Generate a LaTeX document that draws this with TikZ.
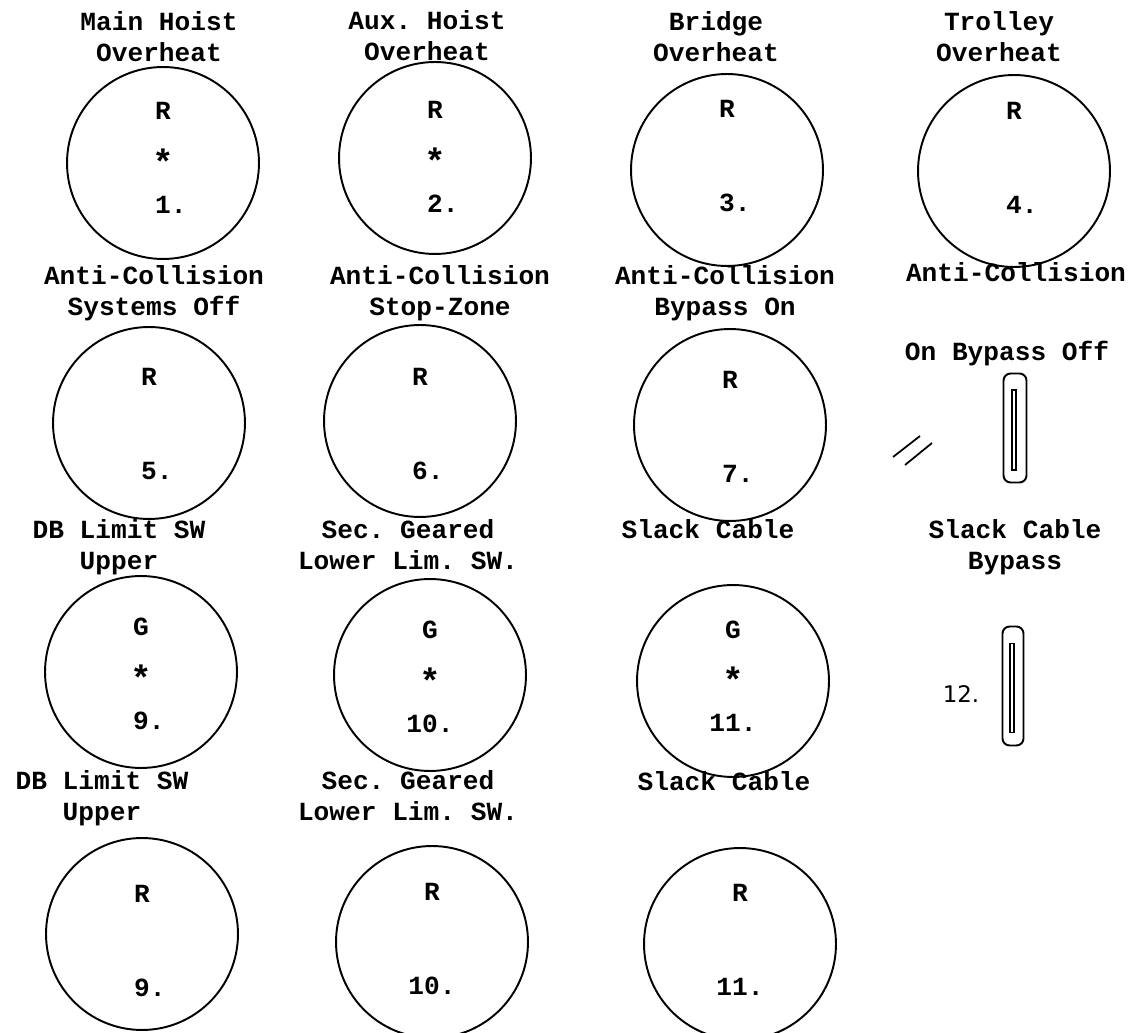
\documentclass[tikz,border=0pt]{standalone}
\usepackage{fontspec}
\setmonofont{Liberation Mono}
\newfontfamily\handfont{DejaVu Sans}
\usepackage{tikz}
\usetikzlibrary{positioning,calc}
\newcommand{\lampstar}{\raisebox{-.3em}{\scalebox{1.35}{*}}}
\newcommand{\panelfont}{\ttfamily\bfseries\fontsize{14.9}{17.6}\selectfont}
\newcommand{\facefont}{\ttfamily\bfseries\fontsize{14.9}{26.6}\selectfont}

\begin{document}
\begin{tikzpicture}[x=0.02cm,y=-0.02cm,
   lamp/.style={draw,circle,line width=1.1pt,minimum size=3.84cm,inner sep=0pt,outer sep=0pt},
   face/.style={align=center,font=\facefont,inner sep=0pt},
   caption/.style={align=center,font=\panelfont,inner sep=0pt},
   toggle/.style={draw,rounded corners=4pt,line width=1.1pt,minimum width=0.46cm,inner sep=0pt,outer sep=0pt},
   slot/.style={draw,line width=0.8pt,minimum width=0.08cm,inner sep=0pt}]
  \useasboundingbox (0,0) rectangle (1133,1033);

  % row 1: overheat lamps
  \node[lamp] (l1) at (163,163) {};
  \node[lamp] (l2) at (435,158) {};
  \node[lamp] (l3) at (727,170) {};
  \node[lamp] (l4) at (1014,171) {};
  \node[face] (f1) at ($(l1)+(0,-5)$) {R\\\lampstar\\\phantom{.}1.};
  \node[face] (f2) at ($(l2)+(0,-1)$) {R\\\lampstar\\\phantom{.}2.};
  \node[face] (f3) at ($(l3)+(0,-14)$) {R\\\strut\\\phantom{.}3.};
  \node[face] (f4) at ($(l4)+(0,-13)$) {R\\\strut\\\phantom{.}4.};
  \node[caption,above=0.1cm of l1,xshift=-0.08cm] (c1) {Main Hoist\\Overheat};
  \node[caption,above=0.02cm of l2,xshift=-0.16cm] (c2) {Aux. Hoist\\Overheat};
  \node[caption,above=0.24cm of l3,xshift=-0.22cm] (c3) {Bridge\\Overheat};
  \node[caption,above=0.26cm of l4,xshift=-0.3cm] (c4) {Trolley\\Overheat};

  % row 2: anti-collision
  \node[lamp] (l5) at (149,423) {};
  \node[lamp] (l6) at (420,421) {};
  \node[lamp] (l7) at (730,425) {};
  \node[face] (f5) at ($(l5)+(0,1)$) {R\\\strut\\\phantom{.}5.};
  \node[face] (f6) at ($(l6)+(0,3)$) {R\\\strut\\\phantom{.}6.};
  \node[face] (f7) at ($(l7)+(0,2)$) {R\\\strut\\\phantom{.}7.};
  \node[caption,above=0.12cm of l5,xshift=0.1cm] (c5) {Anti-Collision\\Systems Off};
  \node[caption,above=0.08cm of l6,xshift=0.4cm] (c6) {Anti-Collision\\Stop-Zone};
  \node[caption,above=0.16cm of l7,xshift=-0.1cm] (c7) {Anti-Collision\\Bypass On};
  \node[toggle,minimum height=2.18cm] (s8) at (1015,428) {};
  \node[slot,minimum height=1.6cm] (k8) at (1014,430) {};
  \node[caption,above=0.14cm of s8,xshift=-0.16cm] (c8b) {On Bypass Off};
  \node[caption,above=1.18cm of c8b,xshift=0.18cm] (c8a) {Anti-Collision};
  \draw[line width=1pt] (893,457) -- (920,436);
  \draw[line width=1pt] (905,465) -- (932,443);

  % row 3: limit switches, green
  \node[lamp] (l9g) at (141,672) {};
  \node[lamp] (l10g) at (430,675) {};
  \node[lamp] (l11g) at (733,681) {};
  \node[face] (f9g) at ($(l9g)+(0,2)$) {G\\\lampstar\\\phantom{.}9.};
  \node[face] (f10g) at ($(l10g)+(0,2)$) {G\\\lampstar\\10.};
  \node[face] (f11g) at ($(l11g)+(0,-5)$) {G\\\lampstar\\11.};
  \node[caption,above=0.02cm of l9g,xshift=-0.44cm] (c9g) {DB Limit SW\\Upper};
  \node[caption,above=0.18cm of l10g,xshift=-0.44cm] (c10g) {Sec. Geared\\Lower Lim. SW.};
  \node[caption,above=0.92cm of l11g,xshift=-0.5cm] (c11g) {Slack Cable};
  \node[toggle,minimum width=0.42cm,minimum height=2.38cm] (s12) at (1013,686) {};
  \node[slot,minimum height=1.78cm] (k12) at (1012,688) {};
  \node[caption,above=1.02cm of s12,xshift=0.04cm] (c12) {Slack Cable\\Bypass};
  \node[font=\handfont\fontsize{13}{13}\selectfont,inner sep=0pt] (n12) at (961,694) {12.};

  % row 4: limit switches, red
  \node[lamp] (l9r) at (142,934) {};
  \node[lamp] (l10r) at (432,942) {};
  \node[lamp] (l11r) at (740,944) {};
  \node[face] (f9r) at ($(l9r)+(0,7)$) {R\\\strut\\\phantom{.}9.};
  \node[face] (f10r) at ($(l10r)+(0,-3)$) {R\\\strut\\10.};
  \node[face] (f11r) at ($(l11r)+(0,-4)$) {R\\\strut\\11.};
  \node[caption,above=0.24cm of l9r,xshift=-0.8cm] (c9r) {DB Limit SW\\Upper};
  \node[caption,above=0.5cm of l10r,xshift=-0.48cm] (c10r) {Sec. Geared\\Lower Lim. SW.};
  \node[caption,above=1.14cm of l11r,xshift=-0.32cm] (c11r) {Slack Cable};
\end{tikzpicture}
\end{document}
